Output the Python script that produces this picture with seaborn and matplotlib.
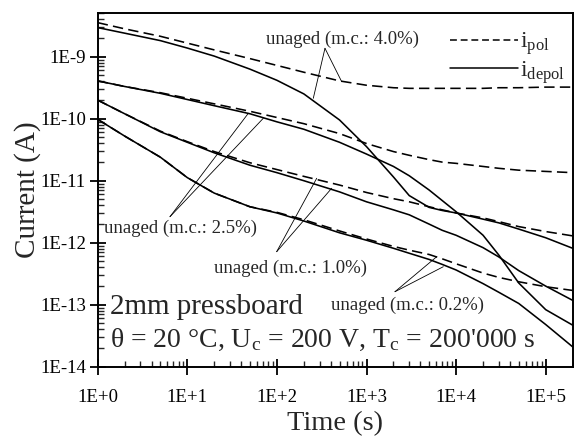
import numpy as np
import pandas as pd
import matplotlib
matplotlib.use("Agg")
import matplotlib.pyplot as plt
import seaborn as sns
from matplotlib.ticker import LogLocator, FixedLocator, FuncFormatter, NullFormatter
from matplotlib.lines import Line2D

# ---- data ----
time_s = [1, 2, 5, 10, 20, 50, 100, 200, 500, 1000, 2000, 3000, 5000, 7000,
          1e4, 2e4, 3e4, 5e4, 1e5, 2e5]
# log10 of current in A
pol_40 = [-8.45, -8.55, -8.67, -8.78, -8.89, -9.03, -9.14, -9.25, -9.39, -9.46,
          -9.50, -9.51, -9.51, -9.51, -9.51, -9.51, -9.50, -9.50, -9.49, -9.49]
depol_40 = [-8.53, -8.62, -8.74, -8.86, -8.99, -9.20, -9.38, -9.60, -10.02, -10.45,
            -10.94, -11.24, -11.43, -11.48, -11.52, -11.62, -11.68, -11.78, -11.92, -12.09]
pol_25 = [-9.39, -9.48, -9.58, -9.67, -9.76, -9.88, -9.98, -10.08, -10.24, -10.40,
          -10.53, -10.59, -10.66, -10.70, -10.72, -10.77, -10.80, -10.83, -10.85, -10.87]
depol_25 = [-9.39, -9.48, -9.59, -9.69, -9.79, -9.92, -10.05, -10.17, -10.38, -10.57,
            -10.77, -10.92, -11.15, -11.32, -11.50, -11.88, -12.20, -12.65, -13.08, -13.33]
pol_10 = [-9.70, -9.92, -10.20, -10.37, -10.53, -10.71, -10.82, -10.93, -11.07, -11.19,
          -11.29, -11.34, -11.42, -11.47, -11.52, -11.60, -11.66, -11.74, -11.82, -11.89]
depol_10 = [-9.70, -9.92, -10.21, -10.38, -10.55, -10.75, -10.87, -11.00, -11.18, -11.34,
            -11.47, -11.55, -11.70, -11.80, -11.88, -12.08, -12.23, -12.45, -12.70, -12.93]
pol_02 = [-10.01, -10.28, -10.62, -10.95, -11.20, -11.42, -11.51, -11.63, -11.81, -11.94,
          -12.06, -12.12, -12.19, -12.26, -12.34, -12.49, -12.56, -12.63, -12.71, -12.77]
depol_02 = [-10.01, -10.28, -10.62, -10.95, -11.20, -11.42, -11.52, -11.65, -11.84, -11.96,
            -12.09, -12.17, -12.27, -12.35, -12.44, -12.66, -12.80, -12.98, -13.32, -13.68]

x_ticks = [1e0, 1e1, 1e2, 1e3, 1e4, 1e5]
y_ticks = [1e-14, 1e-13, 1e-12, 1e-11, 1e-10, 1e-9]

series = {
    ("4.0", "pol"): pol_40, ("4.0", "depol"): depol_40,
    ("2.5", "pol"): pol_25, ("2.5", "depol"): depol_25,
    ("1.0", "pol"): pol_10, ("1.0", "depol"): depol_10,
    ("0.2", "pol"): pol_02, ("0.2", "depol"): depol_02,
}
rows = []
for (mc, kind), vals in series.items():
    for t, v in zip(time_s, vals):
        rows.append({"mc": mc, "kind": kind, "t": t, "I": 10.0 ** v})
df = pd.DataFrame(rows)

# ---- style ----
sns.set_theme(style="ticks")
plt.rcParams["font.family"] = ["Liberation Serif", "DejaVu Serif"]
plt.rcParams["mathtext.fontset"] = "custom"
plt.rcParams["mathtext.rm"] = "Liberation Serif"
plt.rcParams["mathtext.it"] = "Liberation Serif:italic"
plt.rcParams["axes.linewidth"] = 1.4

fig = plt.figure(figsize=(5.74, 4.38), dpi=100)
ax = fig.add_axes([0.1702, 0.1628, 0.8275, 0.8066])

DASH = (6.5, 3.3)
for (mc, kind), sub in df.groupby(["mc", "kind"], sort=False):
    sns.lineplot(data=sub, x="t", y="I", ax=ax, color="black", lw=1.15,
                 estimator=None, sort=True, legend=False,
                 linestyle="--" if kind == "pol" else "-")
    if kind == "pol":
        ax.lines[-1].set_dashes(DASH)

ax.set_xscale("log")
ax.set_yscale("log")
ax.set_xlim(1, 2e5)
ax.set_ylim(1e-14, 5e-9)

def fmt(v, pos):
    e = int(round(np.log10(v)))
    return f"1E{e:+d}"

ax.xaxis.set_major_locator(FixedLocator(x_ticks))
ax.yaxis.set_major_locator(FixedLocator(y_ticks))
ax.xaxis.set_major_formatter(FuncFormatter(fmt))
ax.yaxis.set_major_formatter(FuncFormatter(fmt))
ax.xaxis.set_minor_locator(LogLocator(base=10, subs=np.arange(2, 10), numticks=20))
ax.yaxis.set_minor_locator(LogLocator(base=10, subs=np.arange(2, 10), numticks=20))
ax.xaxis.set_minor_formatter(NullFormatter())
ax.yaxis.set_minor_formatter(NullFormatter())
ax.tick_params(which="major", direction="inout", length=11, width=1.3,
               labelsize=13.5, colors="black")
ax.tick_params(axis="x", which="major", pad=10.5)
ax.tick_params(axis="y", which="major", pad=3)
ax.tick_params(which="minor", direction="in", length=4, width=1.0)
for s in ax.spines.values():
    s.set_color("black")
    s.set_linewidth(1.4)

ax.set_xlabel("Time (s)", fontsize=20.5, labelpad=4)
ax.set_ylabel("Current (A)", fontsize=21, labelpad=-1)

# ---- annotations (axes-fraction positions) ----
lab_fs = 13.5
def label(text, pos, apex, tips):
    ax.text(pos[0], pos[1], text, transform=ax.transAxes, fontsize=lab_fs,
            ha="center", va="center")
    for tip in tips:
        ax.annotate("", xy=tip, xycoords="axes fraction", xytext=apex,
                    textcoords="axes fraction",
                    arrowprops=dict(arrowstyle="-", lw=0.6, color="black",
                                    shrinkA=0, shrinkB=0))

label("unaged (m.c.: 4.0%)", (0.5164, 0.9267), (0.4785, 0.9012),
      [(0.4539, 0.7597), (0.5137, 0.8067)])
label("unaged (m.c.: 2.5%)", (0.1743, 0.3918), (0.1522, 0.4246),
      [(0.3171, 0.7172), (0.3486, 0.7031)])
label("unaged (m.c.: 1.0%)", (0.4059, 0.2779), (0.3768, 0.3255),
      [(0.4611, 0.5333), (0.4926, 0.5050)])
label("unaged (m.c.: 0.2%)", (0.6522, 0.1746), (0.6259, 0.2123),
      [(0.7137, 0.3113), (0.7276, 0.2830)])

ax.text(0.0263, 0.1700, "2mm pressboard", transform=ax.transAxes,
        fontsize=21, ha="left", va="center")
ax.text(0.0263, 0.0755,
        r"θ = 20 °C, U$_\mathregular{c}$ = 200 V, T$_\mathregular{c}$ = 200'000 s",
        transform=ax.transAxes, fontsize=20, ha="left", va="center")

handles = [Line2D([], [], color="black", lw=1.1, dashes=(4.5, 2.5)),
           Line2D([], [], color="black", lw=1.1)]
ax.legend(handles, [r"i$_\mathregular{pol}$", r"i$_\mathregular{depol}$"],
          loc="upper right", bbox_to_anchor=(1.0, 0.972), frameon=False,
          fontsize=17, handlelength=2.9, handletextpad=0.1, labelspacing=0.08,
          borderaxespad=0.1, borderpad=0.2)

fig.savefig("out.png", dpi=100)
